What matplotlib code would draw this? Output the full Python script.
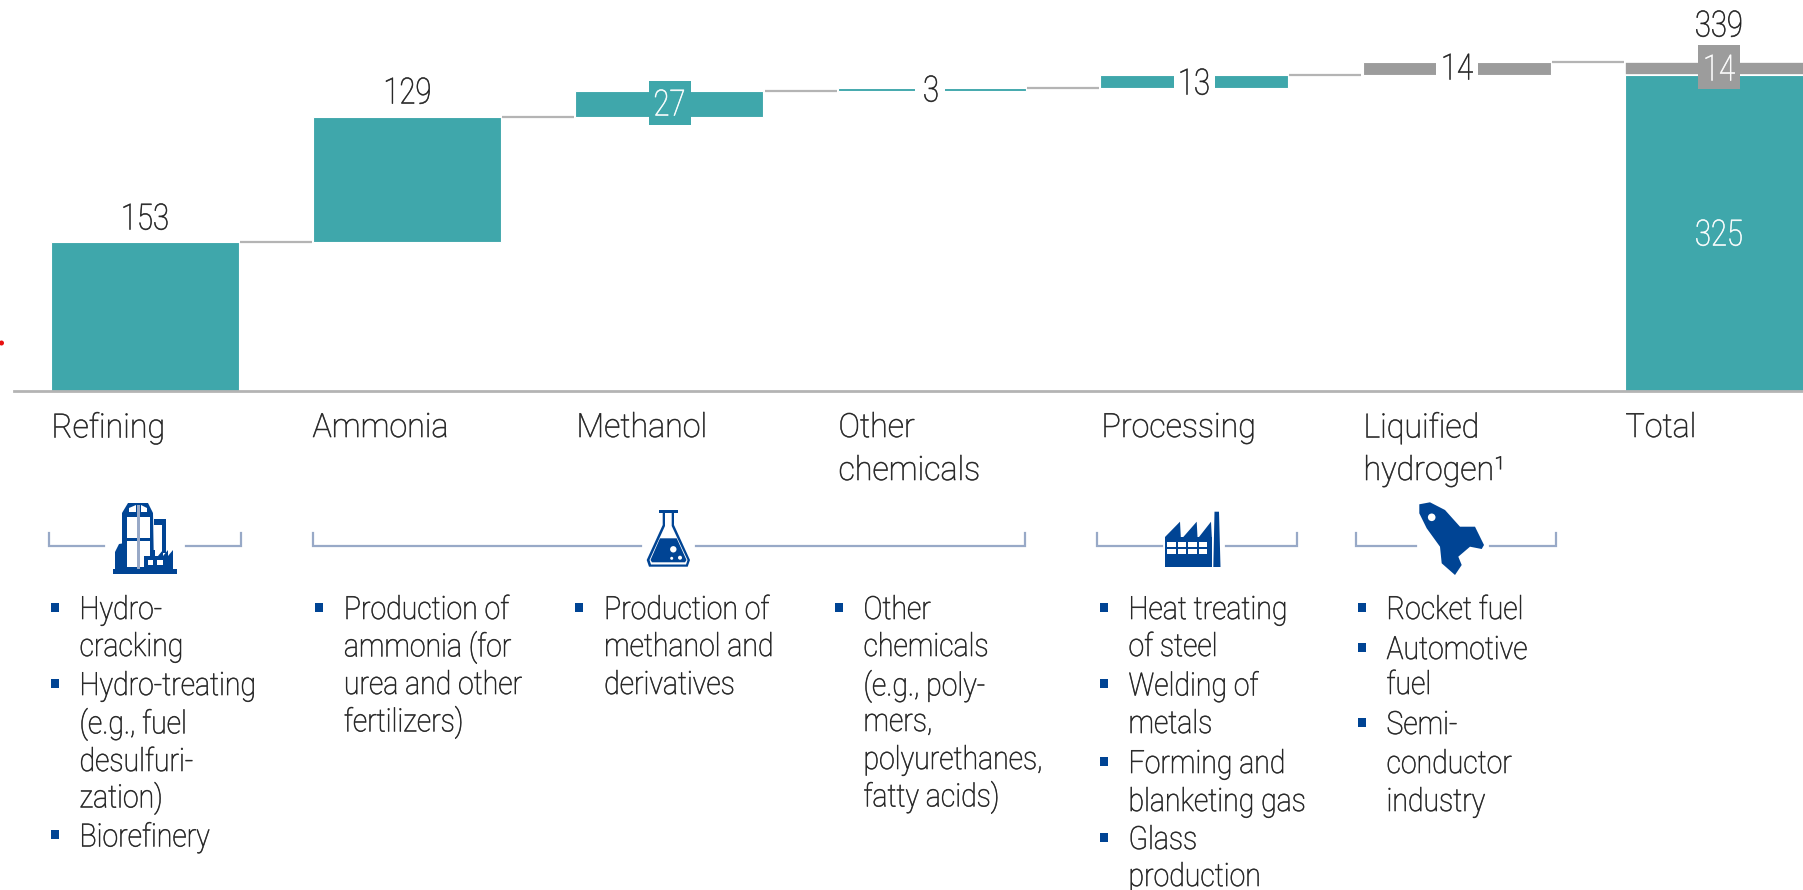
import matplotlib
matplotlib.use("Agg")
import matplotlib.pyplot as plt
import matplotlib.patheffects as pe
from matplotlib.transforms import Affine2D
from matplotlib.patches import Polygon, Rectangle, Circle

plt.rcParams["font.family"] = ["Roboto", "DejaVu Sans"]

# ---- data ----
categories = ["Refining", "Ammonia", "Methanol", "Other\nchemicals", "Processing",
              "Liquified\nhydrogen\u00b9", "Total"]
step_values = [153, 129, 27, 3, 13, 14]
total_teal = 325
total_gray = 14
total_label = 339
details = [
    ([["Hydro-", "cracking"], ["Hydro-treating", "(e.g., fuel", "desulfuri-", "zation)"], ["Biorefinery"]],
     [608, 645, 684, 722, 760, 796, 835], [55.6, 80]),
    ([["Production of", "ammonia (for", "urea and other", "fertilizers)"]],
     [608, 645, 683, 720], [320, 344.4]),
    ([["Production of", "methanol and", "derivatives"]],
     [608, 645, 683], [579.6, 604.6]),
    ([["Other", "chemicals", "(e.g., poly-", "mers,", "polyurethanes,", "fatty acids)"]],
     [608, 645, 684, 720, 758, 795], [840, 864]),
    ([["Heat treating", "of steel"], ["Welding of", "metals"], ["Forming and", "blanketing gas"],
      ["Glass", "production"]],
     [608, 645, 684, 722, 762, 800, 838, 875], [1104.6, 1129]),
    ([["Rocket fuel"], ["Automotive", "fuel"], ["Semi-", "conductor", "industry"]],
     [608, 648, 683, 723, 762, 800], [1363, 1387]),
]

TEAL = "#3FA7AB"
GRAY = "#9C9C9C"
LINE = "#B4B4B4"
BLUE = "#004494"
BRK = "#98A9C7"
TXT = "#222222"
W, H = 1803, 890


class Squeeze(pe.AbstractPathEffect):
    """Narrow a text horizontally about its anchor and thicken it slightly."""
    def __init__(self, x_disp, sx, stroke=0.45):
        super().__init__()
        self.x, self.sx, self.stroke = x_disp, sx, stroke

    def draw_path(self, renderer, gc, tpath, affine, rgbFace=None):
        t = affine + Affine2D().translate(-self.x, 0).scale(self.sx, 1).translate(self.x, 0)
        g = renderer.new_gc()
        g.copy_properties(gc)
        g.set_foreground(rgbFace)
        g.set_linewidth(self.stroke)
        renderer.draw_path(g, tpath, t, rgbFace)
        g.restore()


fig = plt.figure(figsize=(W / 100, H / 100), dpi=100, facecolor="white")

# data axes: category index on x, value on y
ax = fig.add_axes([0, 0, 1, 1])
ppu_x, x0 = 262.4, 144.6
ppu_y, y0 = 0.97, 390.5
ax.set_xlim(-x0 / ppu_x, (W - x0) / ppu_x)
ax.set_ylim((y0 - H) / ppu_y, y0 / ppu_y)
ax.axis("off")
bw = 0.716

cum = 0
for i, v in enumerate(step_values):
    color = GRAY if i == 5 else TEAL
    ax.bar(i, v, bottom=cum, width=bw, color=color, edgecolor="white", linewidth=0.8, zorder=2)
    cum += v
    ax.hlines(cum, i + bw / 2 + 0.005, i + 1 - bw / 2 - 0.005, color=LINE, lw=1.6, zorder=1)
ax.bar(6, total_teal, width=bw, color=TEAL, edgecolor="white", linewidth=0.8, zorder=2)
ax.bar(6, total_gray, bottom=total_teal, width=bw, color=GRAY, edgecolor="white", linewidth=1.2, zorder=2)
ax.axhline(0, xmin=14 / W, color=LINE, lw=2, zorder=3)

# pixel overlay axes for annotations
px = fig.add_axes([0, 0, 1, 1])
px.set_xlim(0, W)
px.set_ylim(H, 0)
px.axis("off")
px.patch.set_alpha(0)


def label(x, y, s, size, sx, color=TXT, ha="left", z=5):
    t = px.text(x, y, s, ha=ha, va="center", fontsize=size, color=color, zorder=z, fontweight="light")
    t.set_path_effects([Squeeze(x, sx)])
    return t


VAL, VAL_SX = 26, 0.81
def value(x, y, s, color=TXT, box=None):
    if box:
        px.add_patch(Rectangle((box[0], box[1]), box[2], box[3], fc=box[4], ec="none", zorder=4))
    label(x, y + 2.5, s, VAL, VAL_SX, color, "center")

value(145, 217, "153")
value(407.5, 91, "129")
value(669.5, 103, "27", "white", (649, 81, 42, 44, TEAL))
value(931, 89, "3", TXT, (915, 80, 30, 18, "white"))
value(1194, 82, "13", TXT, (1174, 70, 41, 22, "white"))
value(1457, 67, "14", TXT, (1436, 56, 42, 22, "white"))
value(1719, 24, str(total_label))
value(1719, 68, str(total_gray), "white", (1698, 45, 42, 44, GRAY))
value(1719, 233, str(total_teal), "white")

# category labels
cat_x = [52, 313, 577, 839, 1102, 1364, 1626]
for x, c in zip(cat_x, categories):
    for j, line in enumerate(c.split("\n")):
        label(x - 0.5, 428 + j * 43, line, 24, 0.966)

# brackets
def bracket(x1, x2, g1, g2):
    y, t = 546, 533
    px.plot([x1, x1, g1], [t, y, y], color=BRK, lw=1.6, solid_joinstyle="miter")
    px.plot([g2, x2, x2], [y, y, t], color=BRK, lw=1.6, solid_joinstyle="miter")
bracket(48.5, 241, 103.6, 186)
bracket(313, 1025, 641, 696)
bracket(1097.4, 1297, 1162, 1225.5)
bracket(1355.6, 1555.6, 1416, 1490)

# detail bullets
for groups, ys, (bx, tx) in details:
    k = 0
    for g in groups:
        px.add_patch(Rectangle((bx - 5, ys[k] - 5), 8, 9, fc=BLUE, ec="none"))
        for line in g:
            label(tx - 0.5, ys[k] + 2.5, line, 23, 0.89)
            k += 1


def rect(x, y, w, h, c=BLUE, z=6):
    px.add_patch(Rectangle((x, y), w, h, fc=c, ec="none", zorder=z))
def poly(pts, c=BLUE, z=6):
    px.add_patch(Polygon(pts, closed=True, fc=c, ec="none", zorder=z))
def dot(x, y, r, c="white"):
    px.add_patch(Circle((x, y), r, fc=c, ec="none", zorder=8))

# refinery icon
rect(112.7, 569, 64.3, 5)
poly([(115, 570), (115, 552), (119, 544), (125, 543), (125, 570)])
poly([(122, 513), (128, 503), (148, 503), (153, 513), (154, 570), (122, 570)])
rect(127, 517, 23, 21, "white", 7)
rect(127, 541, 23, 26, "white", 7)
poly([(129, 508), (136, 505), (136, 512), (129, 512)], "white", 7)
poly([(147, 508), (141, 505), (141, 512), (147, 512)], "white", 7)
rect(137, 505, 3, 64, BRK, 8)
rect(154, 519, 12, 6)
rect(162, 519, 4, 34)
rect(144, 556, 29, 14, BLUE, 9)
rect(152, 550, 3, 7, BLUE, 9)
for xx in (158, 163, 168):
    poly([(xx, 556), (xx + 5, 550), (xx + 5, 556)], BLUE, 9)
rect(148, 560, 5, 5, "white", 10)
rect(157, 560, 6, 5, "white", 10)

# flask icon
poly([(662.7, 512), (662.7, 525), (646.7, 560), (649, 566.7), (687.7, 566.7), (690, 560), (674, 525), (674, 512)])
poly([(665, 512), (665, 526), (649.5, 560), (651, 564.5), (686, 564.5), (687.5, 560), (671.7, 526), (671.7, 512)], "white", 7)
rect(659, 510, 18.7, 2.5, BLUE, 7)
poly([(660, 538.3), (676.7, 538.3), (686.5, 560), (685, 562.3), (652, 562.3), (650.5, 560)], BLUE, 7)
dot(673.3, 549.3, 3.2)
dot(671.7, 558.3, 1.5)
dot(680, 557.7, 2)

# factory icon
rect(1165, 536.7, 46.7, 30.6)
for a, b in ((1165, 1180), (1183.3, 1196.7), (1199, 1211)):
    poly([(a, 537), (b, 521.7), (b + 0.8, 537)])
poly([(1213.3, 567), (1214.5, 511.7), (1219, 511.7), (1220.5, 567)])
for yy in (542.3, 549.3):
    for xx, w in ((1167.3, 8.4), (1178.3, 7.7), (1188.3, 8.4), (1199, 8.3)):
        rect(xx, yy, w, 5, "white", 7)

# rocket icon
poly([(1419.3, 504.3), (1430, 502.3), (1445, 510), (1460, 526.7), (1475, 526.7), (1484, 545), (1481.7, 549),
      (1470, 546.7), (1458.3, 556.7), (1461.7, 565), (1455, 575), (1441.7, 563.3), (1440, 546.7),
      (1426.7, 528.3), (1419.3, 513.3)])
dot(1431.7, 517.3, 3.8)

# stray red dot at the left edge
px.add_patch(Circle((1.5, 343), 2.5, fc="#E81010", ec="none"))

fig.savefig("out.png", dpi=100)
